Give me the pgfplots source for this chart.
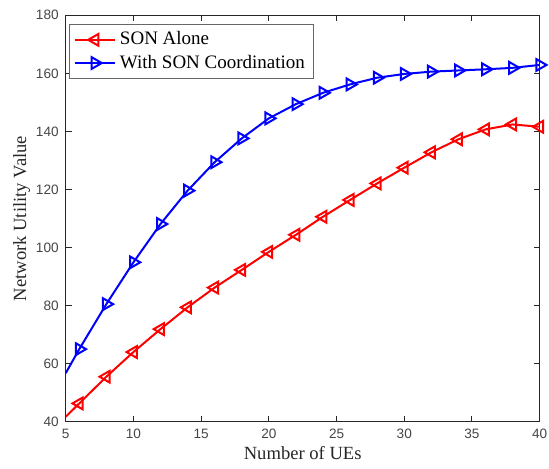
\documentclass[border=0pt]{standalone}
\usepackage{pgfplots}
\pgfplotsset{compat=1.18}
\usepackage{fontspec}
\setmainfont{Liberation Serif}
\newfontfamily\tickfont{Liberation Sans}
\definecolor{axgray}{RGB}{38,38,38}
\definecolor{ticklab}{RGB}{70,70,70}
\definecolor{sonred}{RGB}{255,0,0}
\definecolor{sonblue}{RGB}{0,0,255}
\begin{document}
\begin{tikzpicture}
\begin{axis}[
  scale only axis,
  width=237pt, height=203.2pt,
  xmin=5, xmax=40, ymin=40, ymax=180,
  xtick={5,10,...,40}, ytick={40,60,...,180},
  tick pos=both, tick align=inside,
  major tick length=3pt,
  axis line style={axgray, line width=0.5pt},
  every tick/.style={axgray, line width=0.5pt},
  tick label style={font=\fontsize{6.8}{8}\tickfont, text=ticklab},
  /pgf/number format/assume math mode=true,
  xlabel={Number of UEs},
  ylabel={Network Utility Value},
  label style={font=\fontsize{9.3}{11}\selectfont, text=axgray},
  xlabel style={yshift=3pt},
  ylabel style={yshift=-4pt},
  legend style={at={(0.008,0.978)}, anchor=north west,
    font=\fontsize{9.5}{11}\selectfont, draw=axgray!70, line width=0.5pt,
    inner xsep=2pt, inner ysep=1.5pt, row sep=-0.5pt, cells={anchor=west}},
  legend image code/.code={
    \draw[#1, mark indices={2}] plot coordinates {(0pt,0pt)(10pt,0pt)(20pt,0pt)};
  },
]
\addplot[sonred, line width=1pt, mark=triangle, mark size=3.4pt,
  mark options={rotate=90, solid, line width=1pt}, mark indices={2,...,19}]
coordinates {
(5,41.7)(6,46.3)(8,55.5)(10,64)(12,71.9)(14,79.4)(16,86.2)(18,92.3)(20,98.5)
(22,104.4)(24,110.6)(26,116.4)(28,122.1)(30,127.5)(32,132.8)(34,137.3)
(36,140.7)(38,142.4)(40,141.6)
};
\addlegendentry{SON Alone}
\addplot[sonblue, line width=1pt, mark=triangle, mark size=3.4pt,
  mark options={rotate=-90, solid, line width=1pt}, mark indices={2,...,19}]
coordinates {
(5,56.7)(6,65)(8,80.5)(10,94.9)(12,108.1)(14,119.6)(16,129.4)(18,137.6)(20,144.5)
(22,149.4)(24,153.3)(26,156.2)(28,158.5)(30,159.8)(32,160.6)(34,161)
(36,161.4)(38,161.9)(40,162.9)
};
\addlegendentry{With SON Coordination}
\end{axis}
\pgfresetboundingbox
\path (-32.85pt,-23.15pt) rectangle (241.65pt,210.85pt);
\end{tikzpicture}
\end{document}
